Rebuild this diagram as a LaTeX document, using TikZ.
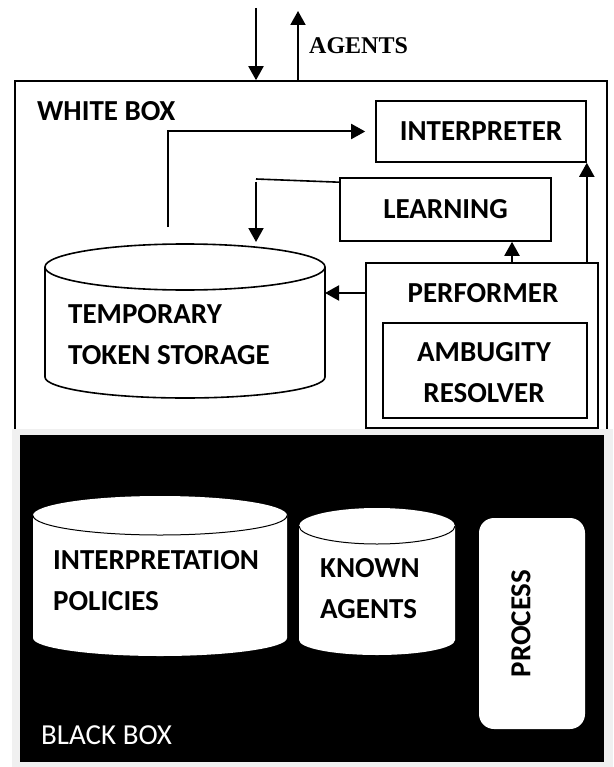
\documentclass[tikz,border=0pt]{standalone}
\usepackage{fontspec}
\setmainfont{Carlito}
\newfontfamily\agentfont{Liberation Serif}
\usetikzlibrary{arrows.meta,calc}
\definecolor{framegray}{HTML}{F0F0F0}

\begin{document}
\begin{tikzpicture}[x=1pt,y=-1pt,
  box/.style={draw, line width=1.6pt, fill=white, inner sep=0pt},
  lbl/.style={font=\fontsize{29}{41}\selectfont\bfseries, inner sep=0pt},
  conn/.style={line width=2pt, -{Triangle[width=15pt,length=14pt]}},
  plain/.style={line width=1.6pt},
  cylfill/.style={fill=white},
  cylline/.style={line width=1.6pt}
]
\useasboundingbox (0,0) rectangle (613,767);

% ---------- white box ----------
\node[draw, line width=1.6pt, minimum width=592pt, minimum height=349pt, inner sep=0pt] (wb) at (311,255.5) {};
\node[lbl, anchor=west] (wbl) at (37,111) {WHITE BOX};

% incoming / outgoing agents
\coordinate (inTop) at (256,8);
\coordinate (outTop) at (298,11);
\draw[conn] (inTop) -- (inTop |- wb.north);
\draw[conn] (outTop |- wb.north) -- (outTop);
\node[font=\agentfont\bfseries\fontsize{24}{26}\selectfont, inner sep=0pt, anchor=west] (agents) at (309,46) {AGENTS};

% interpreter, learning, performer
\node[box, minimum width=210pt, minimum height=61pt] (interp) at (481,131.5) {};
\node[lbl] at (interp.center) {INTERPRETER};
\node[box, minimum width=211pt, minimum height=63pt] (learn) at (445.5,209.5) {};
\node[lbl] at (learn.center) {LEARNING};
\node[box, minimum width=232pt, minimum height=165pt] (perf) at (482,345.5) {};
\node[lbl] (perftxt) at (483,293) {PERFORMER};
\node[box, minimum width=204pt, minimum height=95pt] (res) at (485,370.5) {};
\node[lbl, align=center] at (484,372.5) {AMBUGITY\\RESOLVER};

% temporary token storage (cylinder)
\filldraw[cylfill, cylline] (45,267) -- (45,377)
  arc[start angle=180, end angle=360, x radius=140pt, y radius=21pt]
  -- (325,267)
  arc[start angle=0, end angle=180, x radius=140pt, y radius=23pt] -- cycle;
\draw[cylline] (45,267) arc[start angle=180, end angle=360, x radius=140pt, y radius=23pt];
\node[lbl, align=left, anchor=west] (tts) at (68,334.5) {TEMPORARY\\TOKEN STORAGE};
\coordinate (ttsE) at (325,293);
\coordinate (ttsIn) at (256,242);
\coordinate (ttsOut) at (168,227);

% connectors in the white box
\draw[conn] (ttsOut) |- ($(interp.west)+(-10,0)$);
\coordinate (lturn) at (256,179);
\draw[plain] ($(learn.north west)+(0,5)$) -- (lturn);
\draw[conn] ($(lturn)+(0,3)$) -- (ttsIn);
\coordinate (pl) at ($(perf.north)+(30,0)$);
\draw[conn] (pl) -- (pl |- learn.south);
\draw[conn] (perf.north -| interp.east) -- (interp.south east);
\draw[conn] (perf.west |- ttsE) -- (ttsE);

% ---------- black box ----------
\fill[framegray] (12,429) rectangle (613,767);
\node[fill=black, inner sep=0pt, minimum width=584pt, minimum height=327pt, anchor=north west] (bb) at (20,435) {};
\node[font=\fontsize{29}{30}\selectfont, text=white, inner sep=0pt, anchor=west] (bbl) at (41,735) {BLACK BOX};

% interpretation policies
\fill[cylfill] (33,515.5) -- (33,638)
  arc[start angle=180, end angle=360, x radius=127pt, y radius=18pt]
  -- (287,515.5)
  arc[start angle=0, end angle=180, x radius=127pt, y radius=19.5pt] -- cycle;
\draw[line width=1pt] (33,515.5) arc[start angle=180, end angle=360, x radius=127pt, y radius=19.5pt];
\node[lbl, align=left, anchor=west] (ip) at (53,581) {INTERPRETATION\\POLICIES};

% known agents
\fill[cylfill] (299,526) -- (299,640)
  arc[start angle=180, end angle=360, x radius=78pt, y radius=15pt]
  -- (455,526)
  arc[start angle=0, end angle=180, x radius=78pt, y radius=18pt] -- cycle;
\draw[line width=1pt] (299,526) arc[start angle=180, end angle=360, x radius=78pt, y radius=18pt];
\node[lbl, align=left, anchor=west] (ka) at (320,589) {KNOWN\\AGENTS};

% process
\node[fill=white, rounded corners=15pt, minimum width=106pt, minimum height=211pt, inner sep=0pt] (proc) at (532,623.5) {};
\node[lbl, rotate=90] at (521,623.5) {PROCESS};
\end{tikzpicture}
\end{document}
